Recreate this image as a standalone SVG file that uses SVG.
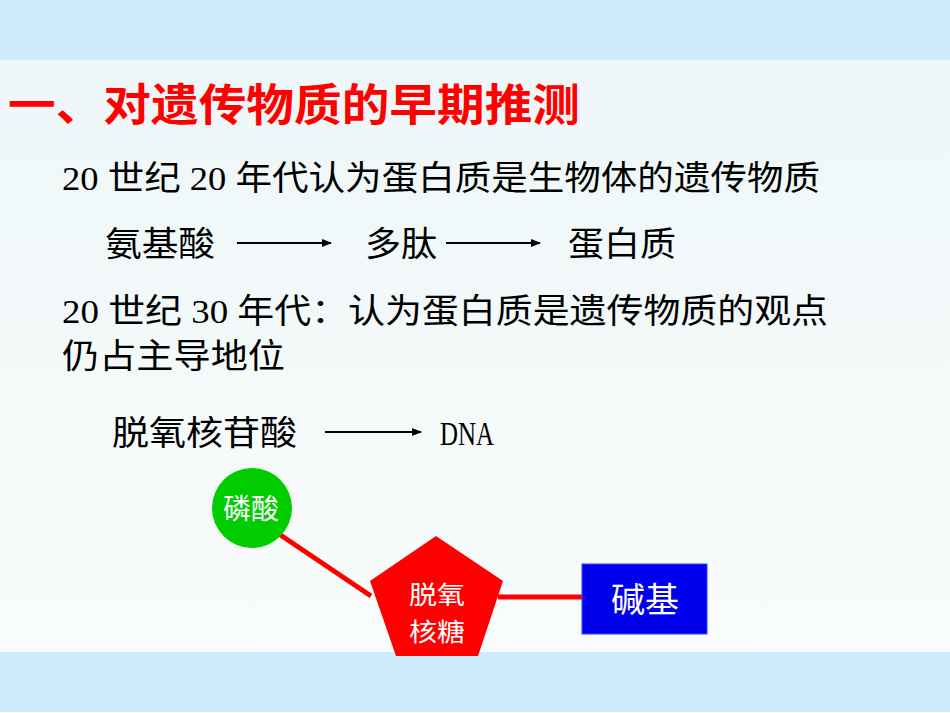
<svg xmlns="http://www.w3.org/2000/svg" width="950" height="713" viewBox="0 0 950 713">
<defs>
<linearGradient id="bg" x1="0" y1="0" x2="0" y2="1">
<stop offset="0" stop-color="#EDF6F7"/>
<stop offset="1" stop-color="#FAFCFC"/>
</linearGradient>
<marker id="ah" markerWidth="10" markerHeight="8" refX="9" refY="4" orient="auto" markerUnits="userSpaceOnUse">
<path d="M0,0 L10,4 L0,8 Z" fill="#000"/>
</marker>
<style>
.t{font-family:"Liberation Serif","Noto Sans CJK SC",serif;font-size:34px;fill:#000}
.title{font-family:"Noto Sans CJK SC",sans-serif;font-weight:bold;font-size:44px;fill:#FF0000}
.w{font-family:"Noto Sans CJK SC",sans-serif;fill:#FFF;text-anchor:middle}
.arr{stroke:#000;stroke-width:2;fill:none;marker-end:url(#ah)}
.bond{stroke:#FF0000;stroke-width:5;fill:none}
</style>
</defs>
<rect x="0" y="0" width="950" height="713" fill="url(#bg)"/>
<rect x="0" y="0" width="950" height="60" fill="#CCEBFC"/>
<rect x="0" y="652" width="950" height="60" fill="#CCEBFC"/>

<g id="title"><text class="title" x="8" y="121" textLength="572" lengthAdjust="spacingAndGlyphs">一、对遗传物质的早期推测</text></g>
<g id="line1"><text class="t" x="62" y="190" textLength="758" lengthAdjust="spacingAndGlyphs">20 世纪 20 年代认为蛋白质是生物体的遗传物质</text></g>
<g id="amino"><text class="t" x="105" y="256" textLength="110" lengthAdjust="spacingAndGlyphs">氨基酸</text></g>
<g id="peptide"><text class="t" x="365" y="256" textLength="72" lengthAdjust="spacingAndGlyphs">多肽</text></g>
<g id="protein"><text class="t" x="568" y="256" textLength="108" lengthAdjust="spacingAndGlyphs">蛋白质</text></g>
<g id="line3"><text class="t" x="62" y="323" textLength="766" lengthAdjust="spacingAndGlyphs">20 世纪 30 年代：认为蛋白质是遗传物质的观点</text></g>
<g id="line4"><text class="t" x="62" y="368" textLength="223" lengthAdjust="spacingAndGlyphs">仍占主导地位</text></g>
<g id="nucleotide"><text class="t" x="112" y="445" textLength="185" lengthAdjust="spacingAndGlyphs">脱氧核苷酸</text></g>
<g id="dna"><text class="t" x="440" y="445" font-size="37" textLength="54" lengthAdjust="spacingAndGlyphs">DNA</text></g>

<g id="connectors">
<line class="arr" x1="237" y1="243" x2="331" y2="243"/>
<line class="arr" x1="446" y1="243" x2="540" y2="243"/>
<line class="arr" x1="325" y1="432" x2="421" y2="432"/>
<line class="bond" x1="276" y1="532" x2="371" y2="596"/>
<line class="bond" x1="498" y1="597" x2="584" y2="597"/>
</g>

<g id="phosphate">
<circle cx="252" cy="508" r="40" fill="#00CC00"/>
<text class="w" x="251" y="519" font-size="28">磷酸</text>
</g>
<g id="sugar">
<polygon points="436,536 503,581 478,656 396,656 370,581" fill="#FF0000"/>
<text class="w" x="437" y="604" font-size="25" textLength="56" lengthAdjust="spacingAndGlyphs">脱氧</text>
<text class="w" x="437" y="641" font-size="25" textLength="56" lengthAdjust="spacingAndGlyphs">核糖</text>
</g>
<g id="base">
<rect x="582" y="564" width="125" height="70" fill="#0000EE" stroke="#3344FF" stroke-width="1"/>
<text class="w" x="645" y="612" font-size="34">碱基</text>
</g>
</svg>
